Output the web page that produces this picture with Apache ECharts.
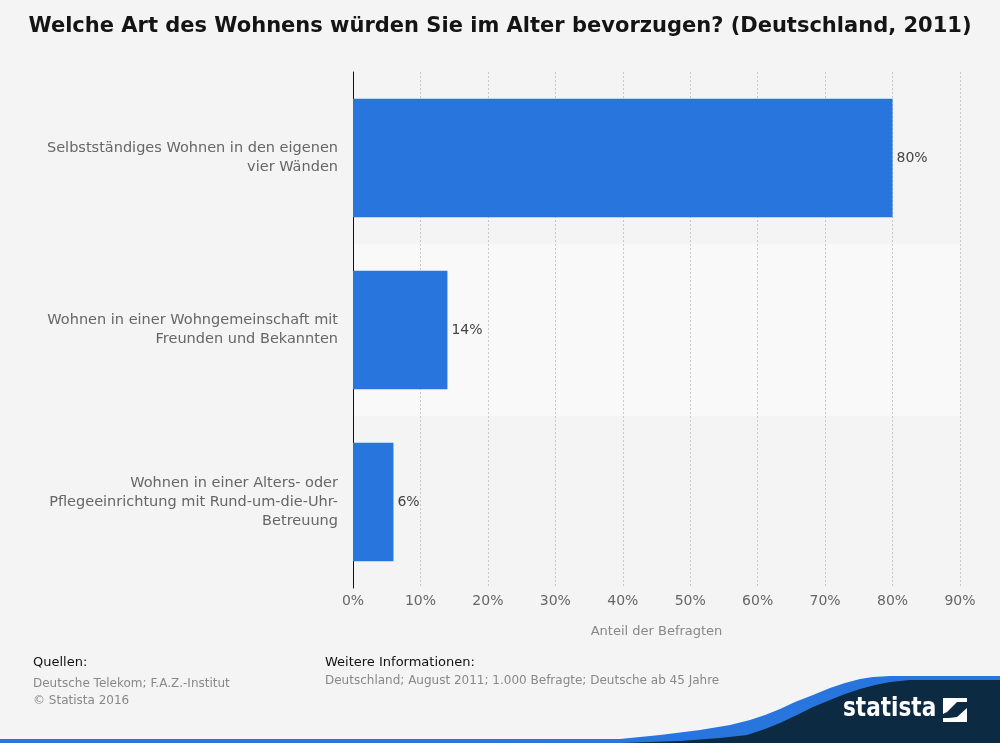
<!DOCTYPE html>
<html>
<head>
<meta charset="utf-8">
<script src="https://cdn.jsdelivr.net/npm/echarts@6/dist/echarts.min.js"></script>
<style>
html,body{margin:0;padding:0;background:#f4f4f4;}
#chart{width:1000px;height:743px;}
</style>
</head>
<body>
<div id="chart"></div>
<script>
const categories = [
  "Selbstständiges Wohnen in den eigenen\nvier Wänden",
  "Wohnen in einer Wohngemeinschaft mit\nFreunden und Bekannten",
  "Wohnen in einer Alters- oder\nPflegeeinrichtung mit Rund-um-die-Uhr-\nBetreuung"
];
const values = [80, 14, 6];
const titleText = "Welche Art des Wohnens würden Sie im Alter bevorzugen? (Deutschland, 2011)";
const axisName = "Anteil der Befragten";
const sourceHead = "Quellen:";
const sourceText = "Deutsche Telekom; F.A.Z.-Institut\n© Statista 2016";
const infoHead = "Weitere Informationen:";
const infoText = "Deutschland; August 2011; 1.000 Befragte; Deutsche ab 45 Jahre";

const chart = echarts.init(document.getElementById('chart'), null, {renderer: 'canvas'});
const font = "'DejaVu Sans', sans-serif";
const blue = '#2876dd';
const navy = '#0c2a42';

// decorative logo wave outlines (footer branding, not data)
const blueWave = [[480,743],[560,742],[620,739],[660,735],[700,730],[730,725],[750,720],[765,715],[780,709],[795,702],[813,695],[830,688],[845,683],[860,679],[873,677],[890,676],[1000,676],[1000,743]];
const navyWave = [[620,743],[680,741],[720,738],[747,735],[765,729],[780,723],[797,715],[813,707],[830,700],[845,694],[860,689],[875,685],[890,682],[910,680],[1000,680],[1000,743]];

chart.setOption({
  backgroundColor: '#f4f4f4',
  animation: false,
  title: {
    text: titleText,
    left: 'center',
    top: 11,
    textStyle: {fontFamily: font, fontSize: 21, fontWeight: 'bold', color: '#141414'}
  },
  grid: {left: 353, right: 40, top: 72, bottom: 155, containLabel: false},
  xAxis: {
    type: 'value',
    min: 0, max: 90, interval: 10,
    axisLine: {show: false},
    axisTick: {show: false},
    axisLabel: {formatter: '{value}%', color: '#666', fontFamily: font, fontSize: 14, margin: 6},
    splitLine: {show: true, lineStyle: {color: '#c8c8c8', type: [2, 2], width: 1}},
    name: axisName,
    nameLocation: 'middle',
    nameGap: 37,
    nameTextStyle: {color: '#888', fontFamily: font, fontSize: 13}
  },
  yAxis: {
    type: 'category',
    data: categories,
    inverse: true,
    axisLine: {show: true, lineStyle: {color: '#111', width: 1}},
    axisTick: {show: false},
    axisLabel: {color: '#666', fontFamily: font, fontSize: 14.5, margin: 15, lineHeight: 19, align: 'right'},
    splitArea: {show: true, areaStyle: {color: ['rgba(0,0,0,0)', '#f9f9f9']}}
  },
  series: [{
    type: 'bar',
    data: values,
    barCategoryGap: '31%',
    itemStyle: {color: blue},
    label: {show: true, position: 'right', formatter: '{c}%', color: '#444', fontFamily: font, fontSize: 14, distance: 4}
  }],
  graphic: {elements: [
    {type: 'text', x: 33, y: 656, style: {text: sourceHead, fill: '#111', font: '13px ' + font}},
    {type: 'text', x: 33, y: 675, style: {text: sourceText, fill: '#888', font: '12px ' + font, lineHeight: 17}},
    {type: 'text', x: 325, y: 656, style: {text: infoHead, fill: '#111', font: '13px ' + font}},
    {type: 'text', x: 325, y: 675, style: {text: infoText, fill: '#888', font: '12px ' + font}},
    {type: 'rect', shape: {x: 0, y: 739, width: 1000, height: 4}, style: {fill: blue}},
    {type: 'polygon', shape: {points: blueWave}, style: {fill: blue}},
    {type: 'polygon', shape: {points: navyWave}, style: {fill: navy}},
    {type: 'text', x: 843, y: 695, scaleX: 0.8, style: {text: 'statista', fill: '#fff', font: 'bold 27px ' + font}},
    {type: 'rect', shape: {x: 943, y: 698, width: 24, height: 24}, style: {fill: '#fff'}},
    {type: 'polygon', shape: {points: [[943,714],[947,712],[957,702],[967,702],[967,708],[957,717],[949,718],[943,718]]}, style: {fill: navy}}
  ]}
});
</script>
</body>
</html>
